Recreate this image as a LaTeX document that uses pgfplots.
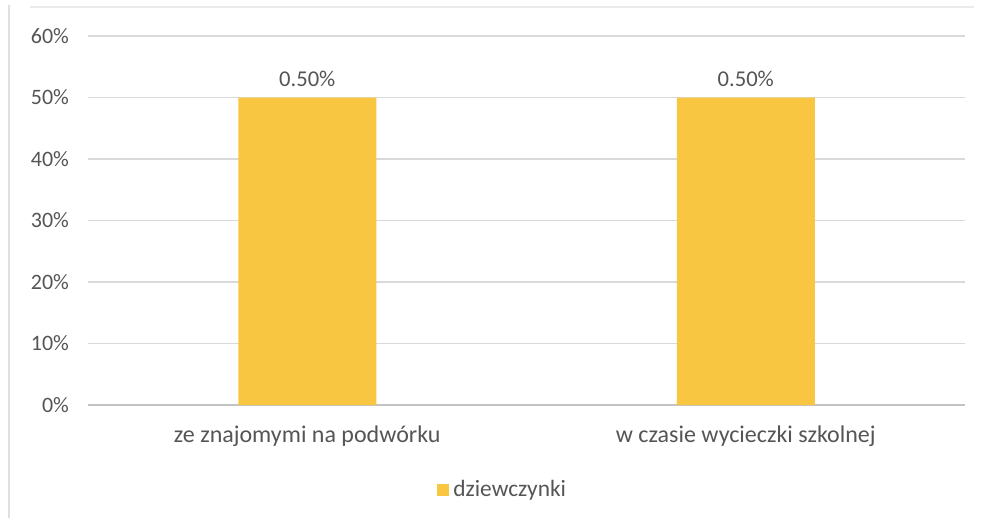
\documentclass[border=0pt]{standalone}
\usepackage{pgfplots}
\pgfplotsset{compat=1.18}
\usepackage{fontspec}
\setmainfont{Carlito}
\definecolor{barcol}{HTML}{F8C640}
\definecolor{txt}{HTML}{555555}
\definecolor{gridc}{HTML}{D9D9D9}
\begin{document}
\begin{tikzpicture}
% page frame, 1 unit = 0.5pt
\path (0pt,0pt) rectangle (490.5pt,260pt);
\draw[black!12, line width=0.6pt] (4.5pt,1pt) -- (4.5pt,257.5pt);
\draw[black!8, line width=0.6pt] (15pt,256.5pt) -- (487pt,256.5pt);
\begin{axis}[
  at={(44pt,57.5pt)}, anchor=south west,
  scale only axis, width=438.5pt, height=184.5pt,
  xmin=-0.5, xmax=1.5, ymin=0, ymax=0.6,
  xtick=data,
  xticklabels={ze znajomymi na podwórku, w czasie wycieczki szkolnej},
  ytick={0,0.1,0.2,0.3,0.4,0.5,0.6},
  yticklabel={\pgfmathparse{\tick*100}\pgfmathprintnumber[fixed,precision=0,assume math mode=true]{\pgfmathresult}\%},
  ymajorgrids, major grid style={gridc, line width=0.6pt},
  axis line style={draw=none},
  major tick length=0pt,
  yticklabel style={xshift=-6pt, font=\fontsize{11}{13}\selectfont, text=txt},
  xticklabel style={yshift=-7pt, font=\fontsize{12}{14}\selectfont, text=txt},
  ybar, bar width=69pt,
  nodes near coords={\pgfmathprintnumber[fixed,fixed zerofill,precision=2,assume math mode=true]{\pgfplotspointmeta}\%},
  every node near coord/.append style={font=\fontsize{11.3}{13}\selectfont, text=txt, yshift=2pt},
  legend style={at={(0.474,-0.23)}, anchor=center, draw=none, fill=none,
    font=\fontsize{11.7}{14}\selectfont, text=txt},
  legend image code/.code={\fill[#1] (0pt,-3pt) rectangle (6pt,3pt);},
  clip=false,
]
\draw[gridc!90!black, line width=0.7pt] (axis cs:-0.5,0) -- (axis cs:1.5,0);
\addplot[fill=barcol, draw=none] coordinates {(0,0.5) (1,0.5)};
\addlegendentry{dziewczynki}
\end{axis}
\end{tikzpicture}
\end{document}
